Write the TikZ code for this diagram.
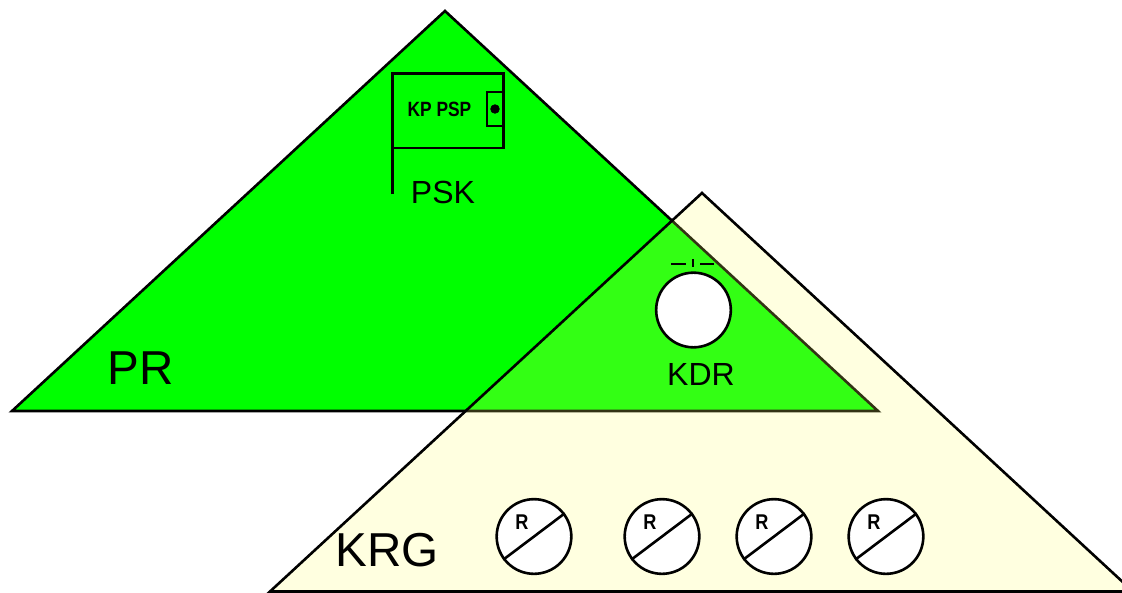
\documentclass[tikz,border=0pt]{standalone}
\usepackage{fontspec}
\setmainfont{Liberation Sans}
\definecolor{krgyellow}{RGB}{255,255,100}
\begin{document}
\begin{tikzpicture}[x=.75pt,y=-.75pt,line width=1.95pt,line join=miter]
\tikzset{zone label/.style={font=\fontsize{35.7}{40}\selectfont,inner sep=0pt},
         small label/.style={font=\fontsize{24}{27}\selectfont,inner sep=0pt},
         relay/.style={draw,fill=white,circle,minimum size=56pt,inner sep=0pt},
         relay label/.style={font=\bfseries\fontsize{16}{18}\selectfont,xscale=.85,inner sep=0pt}}
\clip (0,0) rectangle (1122,593);
% zones
\draw [fill=green] (445,11) -- (12,411) -- (878,411) -- cycle;
\fill [krgyellow,opacity=.2] (702,193) -- (270,591.5) -- (1133,591.5) -- cycle;
\draw (270,591.5) -- (702,193) -- (1133,591.5) -- cycle;
\node [zone label] (pr) at (141,368) {PR};
\node [zone label] (krg) at (387,550) {KRG};
% board in PSK
\draw (392.5,194) -- (392.5,73.5) -- (503.5,73.5) -- (503.5,148) -- (392.5,148);
\draw (487,92) rectangle (503.5,126);
\node [draw,fill=black,circle,minimum size=6.5pt,inner sep=0pt,line width=.5pt] (dot) at (495,109) {};
\node [font=\bfseries\fontsize{15.5}{18}\selectfont,xscale=.84,inner sep=0pt] (kppsp) at (439.5,109) {KP PSP};
\node [small label] (psk) at (443,192) {PSK};
% KDR
\node [relay] (kdr) at (693.5,310) {};
\draw (671,264) -- (686,264);
\draw (700,264) -- (714,264);
\draw (693,259) -- (693,267);
\node [small label] (kdrlabel) at (701,374) {KDR};
% relays
\foreach \name/\xpos in {ra/534,rb/662,rc/774,rd/886}{
    \node [relay] (\name) at (\xpos,536.5) {};
    \draw (\name.217) -- (\name.37);
    \node [relay label] at ([xshift=-9pt,yshift=10.5pt]\name.center) {R};
}
\end{tikzpicture}
\end{document}
